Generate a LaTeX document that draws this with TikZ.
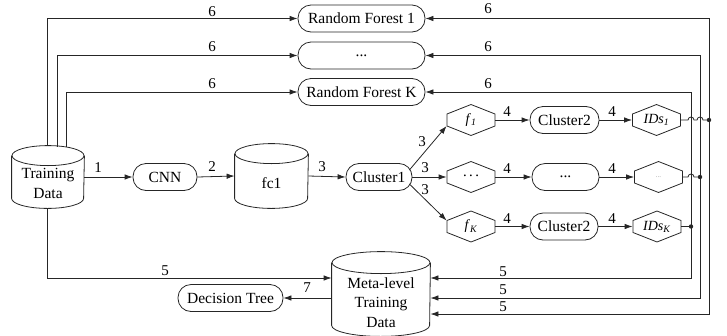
\documentclass[tikz,border=0pt]{standalone}
\usepackage{fontspec}
\setmainfont{Liberation Serif}
\usetikzlibrary{arrows.meta,calc}
\newcommand\cylshape[3]{%
  \draw ($(#1.north west)+(0,#3)$) -- ($(#1.south west)+(0,-#3)$)
        arc[start angle=180,end angle=360,x radius=#2pt,y radius=#3pt]
        -- ($(#1.north east)+(0,#3)$);
  \draw ($(#1.north)+(0,#3)$) ellipse[x radius=#2pt,y radius=#3pt];}
\newcommand\hexshape[1]{%
  \draw ($(#1.center)+(-24,-6)$) -- ($(#1.center)+(0,-15.5)$) -- ($(#1.center)+(24,-6)$)
     -- ($(#1.center)+(24,6)$) -- ($(#1.center)+(0,15.5)$) -- ($(#1.center)+(-24,6)$) -- cycle;}
\begin{document}
\begin{tikzpicture}[x=1pt,y=-1pt,line width=0.8pt,draw=black!85,
  box/.style={draw,rounded corners=13pt,minimum height=27pt,inner sep=0pt,font=\fontsize{15.5}{18}\selectfont},
  hexn/.style={minimum width=48pt,minimum height=31pt,inner sep=0pt,font=\fontsize{14}{16}\selectfont},
  cyln/.style={minimum width=#1,inner sep=0pt},
  txt/.style={align=center,inner sep=0pt,font=\fontsize{15.5}{20}\selectfont},
  lab/.style={inner sep=0pt,font=\fontsize{15}{15}\selectfont},
  arr/.style={-{Latex[length=8pt,width=5.5pt]}}]
\useasboundingbox (0,0) rectangle (727,335);

% rounded boxes
\node[box,minimum width=127pt] (rf1) at (361.5,18.5) {Random Forest 1};
\node[box,minimum width=127pt] (rfm) at (361.5,55.5) {...};
\node[box,minimum width=127pt] (rfk) at (361.5,92) {Random Forest K};
\node[box,minimum width=64pt] (cnn) at (165,177) {CNN};
\node[box,minimum width=66pt] (cl1) at (379,177) {Cluster1};
\node[box,minimum width=69pt] (c2a) at (564.5,120) {Cluster2};
\node[box,minimum width=67pt] (c2m) at (565.5,177) {...};
\node[box,minimum width=68pt] (c2b) at (564,226.5) {Cluster2};
\node[box,minimum width=105pt] (dt) at (230.5,298) {Decision Tree};

% cylinders
\node[cyln=72pt,minimum height=62pt] (td) at (48,177) {};
\cylshape{td}{36}{10}
\node[txt] (tdt) at (48,183) {Training\\Data};
\node[cyln=73pt,minimum height=64pt] (fc) at (271.5,176) {};
\cylshape{fc}{36.5}{10}
\node[txt] (fct) at (271.5,183) {fc1};
\node[cyln=98pt,minimum height=84pt] (meta) at (381,294) {};
\cylshape{meta}{49}{11}
\node[txt,font=\fontsize{15.5}{19.5}\selectfont] (metat) at (381,302.5) {Meta-level\\Training\\Data};

% hexagons
\node[hexn] (f1) at (471,120) {\textit{f}\textsubscript{\textit{1}}};
\node[hexn,font=\fontsize{11}{12}\selectfont] (fm) at (471,177) {\bfseries ·\hspace{2.5pt}·\hspace{2.5pt}·};
\node[hexn] (fk) at (471,226.5) {\textit{f}\textsubscript{\textit{K}}};
\node[hexn] (id1) at (656.5,120) {\textit{IDs}\textsubscript{\textit{1}}};
\node[hexn] (idm) at (658.5,177) {\textcolor{black!40}{\fontsize{7}{8}\selectfont ...}};
\node[hexn] (idk) at (657,226.5) {\textit{IDs}\textsubscript{\textit{K}}};
\foreach \n in {f1,fm,fk,id1,idm,idk} {\hexshape{\n}}

% junction points
\coordinate (d1) at (709,120);
\coordinate (d2) at (700,177);
\coordinate (d3) at (691,226.5);

% main chain
\draw[arr] (td.east) -- (cnn.west);
\draw[arr] (cnn.east) -- (fc.west);
\draw[arr] (fc.east) -- (cl1.west);
\draw[arr] ($(cl1.east)+(-3,-7)$) -- ($(f1.west)+(0,6)$);
\draw[arr] (cl1.east) -- (fm.west);
\draw[arr] ($(cl1.east)+(-3,7)$) -- ($(fk.west)+(0,-6)$);
\draw[arr] (f1.east) -- (c2a.west);
\draw[arr] (c2a.east) -- (id1.west);
\draw[arr] (fm.east) -- (c2m.west);
\draw[arr] (c2m.east) -- (idm.west);
\draw[arr] (fk.east) -- (c2b.west);
\draw[arr] (c2b.east) -- (idk.west);

% training data to forests and meta
\draw[arr] ($(td.north)+(-1,0)$) |- (rf1.west);
\draw[arr] ($(td.north)+(9,1)$) |- (rfm.west);
\draw[arr] ($(td.north)+(18,1.5)$) |- (rfk.west);
\draw[arr] ($(td.south)+(-1,0)$) |- ($(meta.west)+(0,-16)$);
\draw[arr] ($(meta.west)+(0,4)$) -- (dt.east);

% outputs to right bus
\draw (id1.east) -- ($(d3|-id1.east)+(-3,0)$) arc[start angle=180,end angle=0,radius=3pt]
      -- ($(d2|-id1.east)+(-3,0)$) arc[start angle=180,end angle=0,radius=3pt] -- (d1);
\draw (idm.east) -- ($(d3|-idm.east)+(-3,0)$) arc[start angle=180,end angle=0,radius=3pt] -- (d2);
\draw (idk.east) -- (d3);
\fill[black!85] (d1) circle[radius=2.2pt] (d2) circle[radius=2.2pt] (d3) circle[radius=2.2pt];
\draw[arr] (d1) |- (rf1.east);
\draw[arr] (d2) |- (rfm.east);
\draw[arr] (d3) |- (rfk.east);
\draw[arr] (d1) |- ($(meta.east)+(0,20)$);
\draw[arr] (d2) |- ($(meta.east)+(0,4)$);
\draw[arr] (d3) |- ($(meta.east)+(0,-16)$);

% labels
\node[lab] (l6a) at (212,12) {6};
\node[lab] (l6b) at (212,47) {6};
\node[lab] (l6c) at (212,84) {6};
\node[lab] (l6d) at (488,9) {6};
\node[lab] (l6e) at (488,47) {6};
\node[lab] (l6f) at (488,84) {6};
\node[lab] (l1) at (98,168) {1};
\node[lab] (l2) at (212,167) {2};
\node[lab] (l3) at (322,167) {3};
\node[lab] (l3a) at (422,142) {3};
\node[lab] (l3b) at (425,168) {3};
\node[lab] (l3c) at (425,190) {3};
\node[lab] (l4a) at (507,112) {4};
\node[lab] (l4b) at (612,112) {4};
\node[lab] (l4c) at (507,169) {4};
\node[lab] (l4d) at (612,169) {4};
\node[lab] (l4e) at (507,219) {4};
\node[lab] (l4f) at (612,219) {4};
\node[lab] (l5a) at (165,271) {5};
\node[lab] (l5b) at (503,272) {5};
\node[lab] (l5c) at (503,290) {5};
\node[lab] (l5d) at (503,307) {5};
\node[lab] (l7) at (307,288) {7};
\end{tikzpicture}
\end{document}
